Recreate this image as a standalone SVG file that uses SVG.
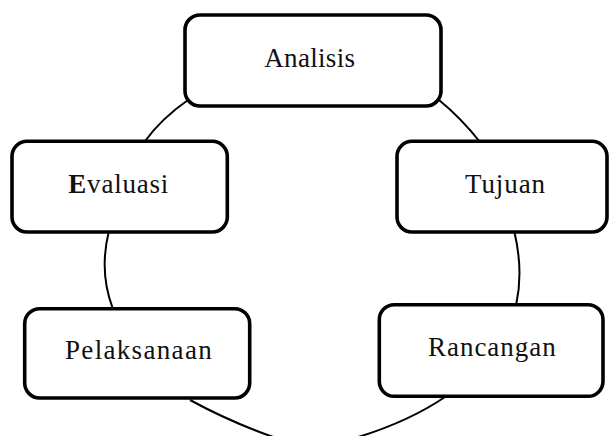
<svg xmlns="http://www.w3.org/2000/svg" width="609" height="436" viewBox="0 0 609 436">
  <style>
    .arc { fill: none; stroke: #000; stroke-width: 2; }
    .box { fill: #fff; stroke: #000; stroke-width: 3.6; }
    .lbl { font-family: "Liberation Serif", "Times New Roman", serif; font-size: 27px; fill: #111; }
  </style>
  <rect width="609" height="436" fill="#fff"/>
  <g id="connectors">
    <path class="arc" d="M188,100 Q160.8,119 144.4,142"/>
    <path class="arc" d="M439,100 Q461,118 480,142"/>
    <path class="arc" d="M108.7,232 Q99,272 112.6,308"/>
    <path class="arc" d="M514.4,232 Q523.5,270.6 516.3,304"/>
    <path class="arc" d="M190,400 Q234,424 282,440"/>
    <path class="arc" d="M445,397 Q405,424 348,440"/>
  </g>
  <g id="node-analisis">
    <rect class="box" x="185" y="15" width="256" height="91" rx="15"/>
    <text class="lbl" x="264.3" y="66.7" textLength="90.7" lengthAdjust="spacing">Analisis</text>
  </g>
  <g id="node-evaluasi">
    <rect class="box" x="12" y="141.3" width="215.3" height="90.7" rx="15"/>
    <text class="lbl" x="68.3" y="193" textLength="100" lengthAdjust="spacing"><tspan font-weight="bold">E</tspan>valuasi</text>
  </g>
  <g id="node-tujuan">
    <rect class="box" x="397" y="141.3" width="210" height="90.7" rx="15"/>
    <text class="lbl" x="465" y="192.7" textLength="80" lengthAdjust="spacing">Tujuan</text>
  </g>
  <g id="node-pelaksanaan">
    <rect class="box" x="24.7" y="308.7" width="225" height="89.3" rx="15"/>
    <text class="lbl" x="65" y="359" textLength="146.7" lengthAdjust="spacing">Pelaksanaan</text>
  </g>
  <g id="node-rancangan">
    <rect class="box" x="379.3" y="304.7" width="223.7" height="91.6" rx="15"/>
    <text class="lbl" x="428" y="355.5" textLength="127.7" lengthAdjust="spacing">Rancangan</text>
  </g>
</svg>
